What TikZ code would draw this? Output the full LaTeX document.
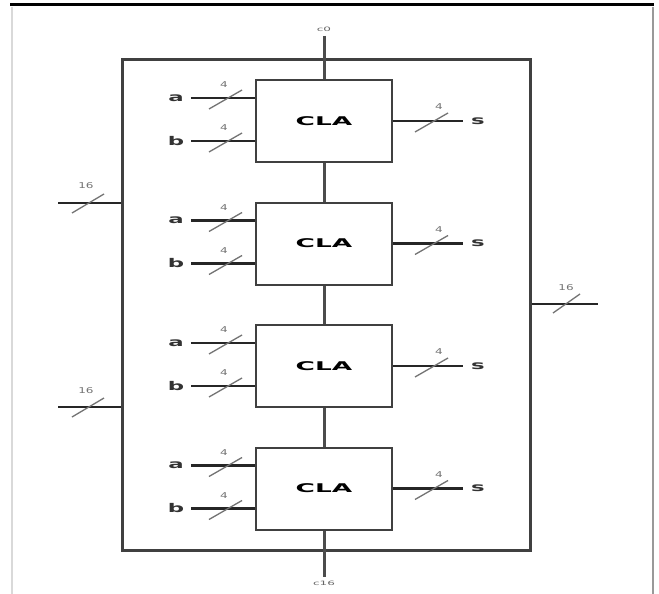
\documentclass[tikz,border=0pt]{standalone}
\usepackage{fontspec}
\setmainfont{DejaVu Sans}
\begin{document}
\begin{tikzpicture}[x=1pt,y=-1pt,
  outerbox/.style={draw=black!75,line width=3pt,minimum width=408pt,minimum height=490pt,inner sep=0pt},
  clabox/.style={draw=black!75,line width=2pt,fill=white,minimum width=136pt,minimum height=82pt,inner sep=0pt,
                 font=\fontsize{12}{12}\selectfont\bfseries},
  wire/.style={draw=black!85,line width=2.5pt},
  mainbus/.style={draw=black!70,line width=3pt},
  slashline/.style={draw=black!55,line width=1.3pt},
  lbl/.style={inner xsep=7pt,inner ysep=1pt,font=\fontsize{12}{12}\selectfont\bfseries,text=black!80},
  wlbl/.style={inner sep=0pt,font=\fontsize{8}{8}\selectfont,text=black!55},
  clbl/.style={inner sep=0pt,font=\fontsize{6}{6}\selectfont,text=black!60}
]
\useasboundingbox (0,0) rectangle (659,594);
\fill[white] (0,0) rectangle (659,594);
% screenshot frame
\draw[black,line width=3pt] (10,5) -- (654,5);
\draw[black!15,line width=2pt] (12,7) -- (12,594);
\draw[black!40,line width=2pt] (653,7) -- (653,594);

% outer box
\node[outerbox] (outer) at (326,305) {};

% carry labels
\node[clbl] (c0) at (324,29) {\scalebox{2}[1]{c0}};
\node[clbl] (c16) at (324,583) {\scalebox{2}[1]{c16}};
\coordinate (ctop) at (324,36);
\coordinate (cbot) at (324,577);

\foreach \i/\cy in {1/121,2/243.5,3/366,4/488.5}{
  \node[clabox] (cla\i) at (324,\cy) {\scalebox{2.2}[1]{CLA}};
  \node[lbl] (a\i) at (176,\cy-23) {\scalebox{1.9}[1]{a}};
  \node[lbl] (b\i) at (176,\cy+20) {\scalebox{1.9}[1]{b}};
  \node[lbl,inner xsep=8pt] (s\i) at (478,\cy) {\scalebox{1.9}[1]{s}};
  \draw[wire] (a\i.east) -- (a\i.east -| cla\i.west);
  \draw[wire] (b\i.east) -- (b\i.east -| cla\i.west);
  \draw[wire] (cla\i.east |- s\i.west) -- (s\i.west);
  % bus-width slashes and labels
  \draw[slashline] (209,\cy-23+11) -- (242,\cy-23-8);
  \draw[slashline] (209,\cy+20+11) -- (242,\cy+20-8);
  \draw[slashline] (415,\cy+11) -- (448,\cy-8);
  \node[wlbl] (wa\i) at (224,\cy-36) {\scalebox{1.5}[1]{4}};
  \node[wlbl] (wb\i) at (224,\cy+7) {\scalebox{1.5}[1]{4}};
  \node[wlbl] (ws\i) at (439,\cy-14) {\scalebox{1.5}[1]{4}};
}

% carry chain
\draw[mainbus] (ctop) -- (cla1.north);
\draw[mainbus] (cla1.south) -- (cla2.north);
\draw[mainbus] (cla2.south) -- (cla3.north);
\draw[mainbus] (cla3.south) -- (cla4.north);
\draw[mainbus] (cla4.south) -- (cbot);

% 16-bit buses
\coordinate (in1) at (58,203);
\coordinate (in2) at (58,407);
\coordinate (out) at (598,304);
\draw[wire] (in1) -- (in1 -| outer.west);
\draw[wire] (in2) -- (in2 -| outer.west);
\draw[wire] (out -| outer.east) -- (out);
\draw[slashline] (72,213) -- (104,194);
\draw[slashline] (72,417) -- (104,398);
\draw[slashline] (553,313) -- (580,294);
\node[wlbl] (w16a) at (86,186) {\scalebox{1.5}[1]{16}};
\node[wlbl] (w16b) at (86,391) {\scalebox{1.5}[1]{16}};
\node[wlbl] (w16c) at (566,288) {\scalebox{1.5}[1]{16}};
\end{tikzpicture}
\end{document}
